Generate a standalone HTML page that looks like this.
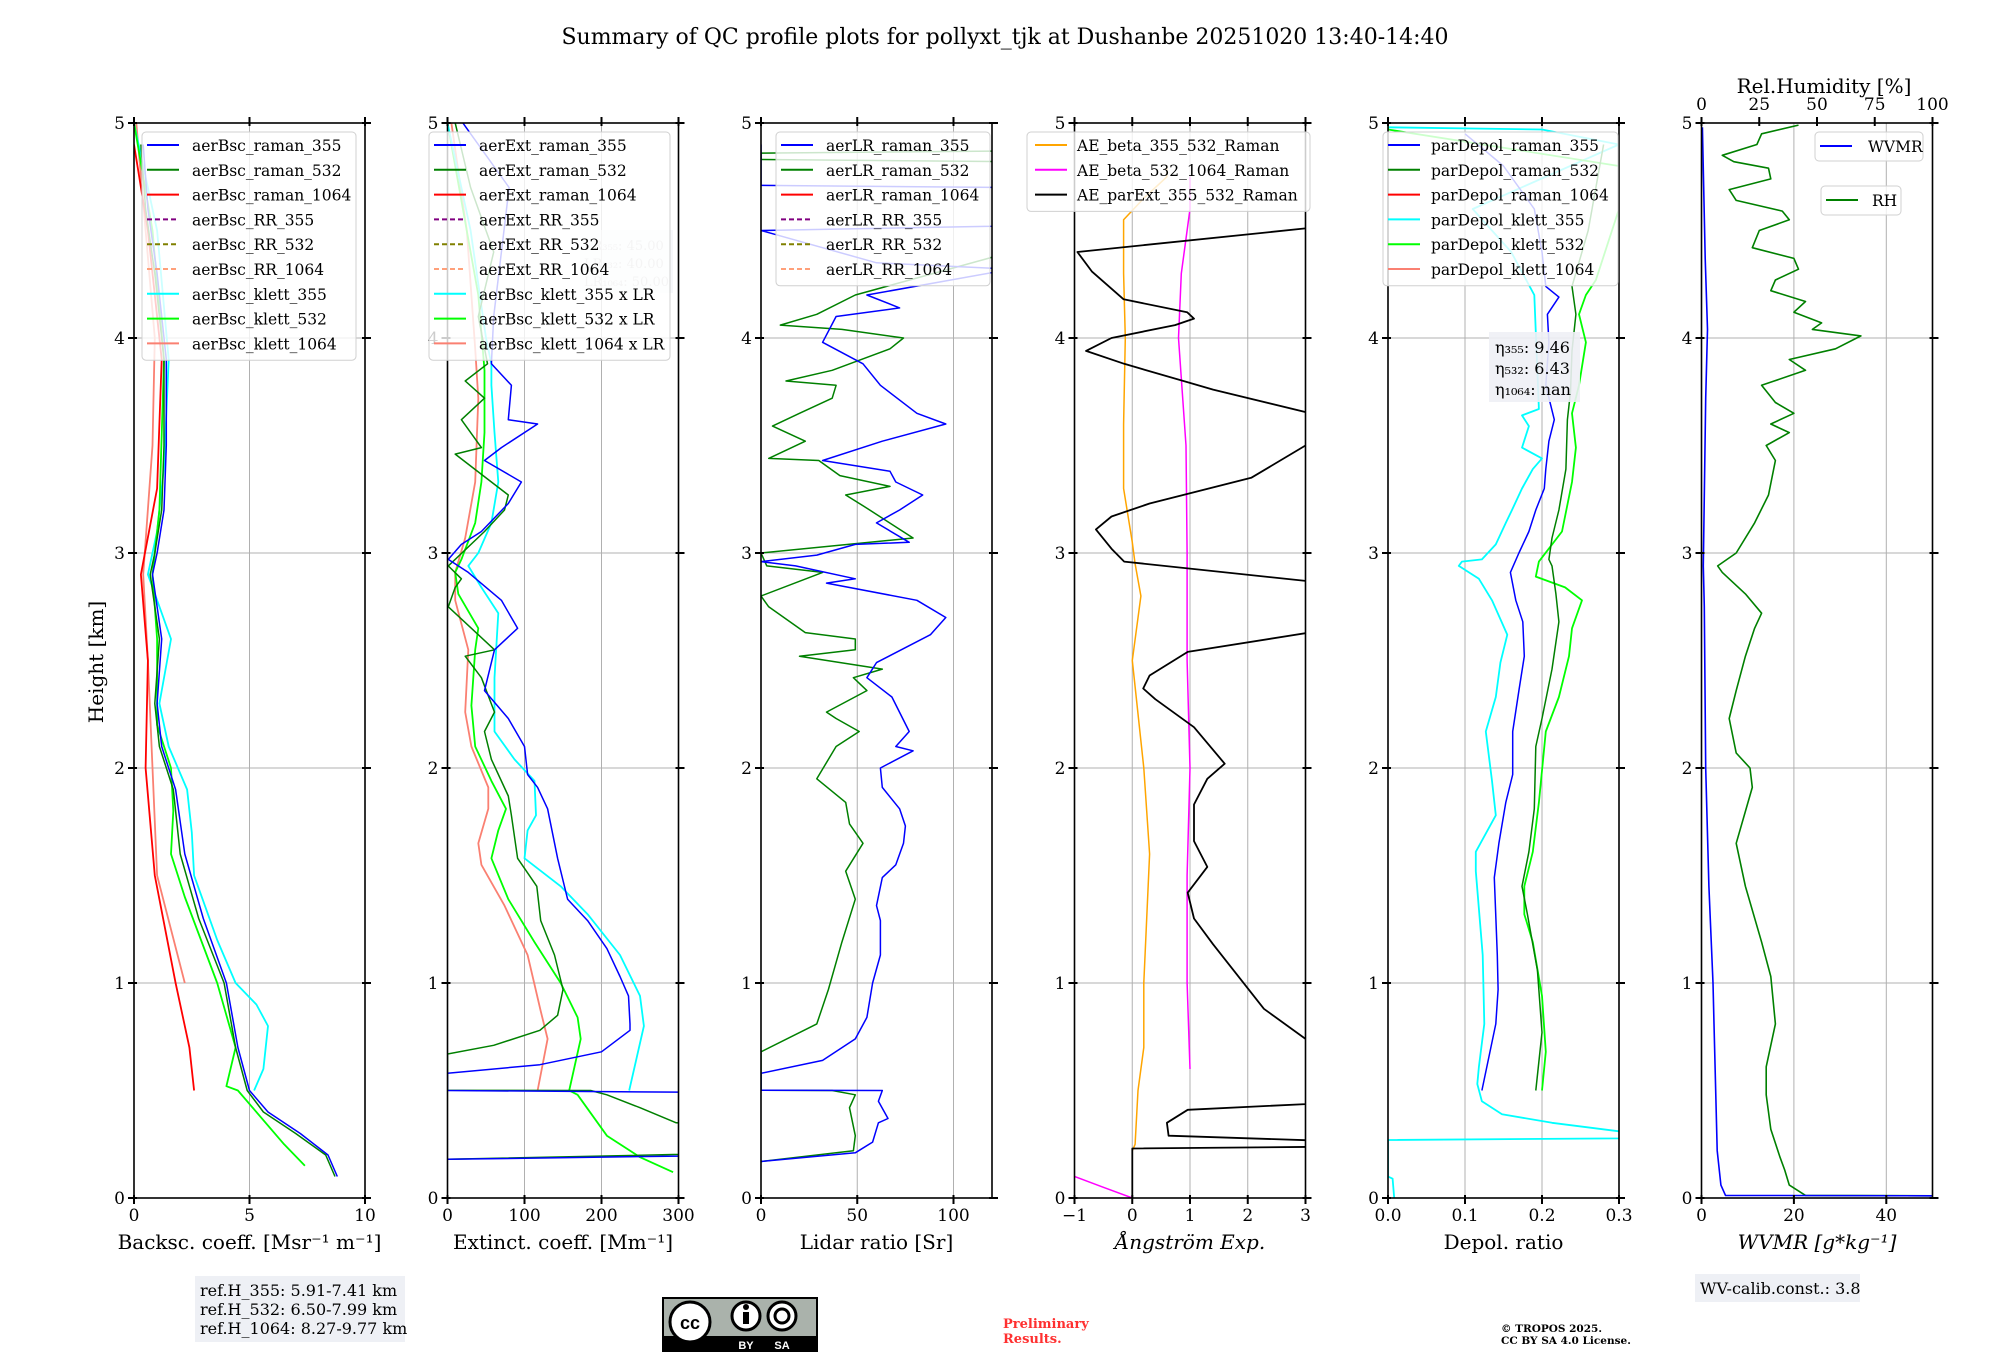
<!DOCTYPE html>
<html><head><meta charset="utf-8">
<style>
html,body{margin:0;padding:0;background:#fff;}
svg{display:block;font-family:"DejaVu Serif","Liberation Serif",serif;}
</style></head>
<body>
<svg id="chart" width="2000" height="1360" viewBox="0 0 2000 1360" xmlns="http://www.w3.org/2000/svg">
<rect x="0" y="0" width="2000" height="1360" fill="#fff"/>
<text x="1005" y="44" font-size="22" text-anchor="middle">Summary of QC profile plots for pollyxt_tjk at Dushanbe 20251020 13:40-14:40</text>
<text transform="translate(103,662) rotate(-90)" font-size="20" text-anchor="middle">Height [km]</text>
<g id="plots"></g>
<g>
<rect x="195" y="1276" width="210" height="66" fill="#eef0f5"/>
<text x="200" y="1296" font-size="16">ref.H_355: 5.91-7.41 km</text>
<text x="200" y="1315" font-size="16">ref.H_532: 6.50-7.99 km</text>
<text x="200" y="1334" font-size="16">ref.H_1064: 8.27-9.77 km</text>
</g>
<g>
<rect x="662" y="1297" width="156" height="55" fill="#000"/>
<rect x="664" y="1299" width="152" height="37" fill="#aab2ab"/>
<circle cx="690" cy="1322" r="20" fill="#fff" stroke="#000" stroke-width="3"/>
<text x="690" y="1329" font-size="18" font-weight="bold" text-anchor="middle" font-family="Liberation Sans, sans-serif">cc</text>
<circle cx="746" cy="1316" r="14" fill="#fff" stroke="#000" stroke-width="3"/>
<rect x="743" y="1312" width="6" height="12" fill="#000"/><circle cx="746" cy="1307" r="3" fill="#000"/>
<circle cx="782" cy="1316" r="14" fill="#fff" stroke="#000" stroke-width="3"/>
<circle cx="782" cy="1316" r="7" fill="none" stroke="#000" stroke-width="3"/>
<text x="746" y="1349" font-size="11" fill="#fff" text-anchor="middle" font-family="Liberation Sans, sans-serif" font-weight="bold">BY</text>
<text x="782" y="1349" font-size="11" fill="#fff" text-anchor="middle" font-family="Liberation Sans, sans-serif" font-weight="bold">SA</text>
</g>
<text x="1003" y="1328" font-size="13" font-weight="bold" fill="#ff3030">Preliminary</text>
<text x="1003" y="1343" font-size="13" font-weight="bold" fill="#ff3030">Results.</text>
<text x="1501" y="1332" font-size="10.5" font-weight="bold">© TROPOS 2025.</text>
<text x="1501" y="1344" font-size="10.5" font-weight="bold">CC BY SA 4.0 License.</text>
<g>
<rect x="1695" y="1274" width="165" height="28" fill="#eef0f5"/>
<text x="1700" y="1294" font-size="16">WV-calib.const.: 3.8</text>
</g>
</svg>
<script>
// ---------- data (height km / value) ----------
const bsc355H=[0.1,0.2,0.3,0.4,0.5,0.7,1.0,1.3,1.6,1.9,2.1,2.3,2.6,2.9,3.0,3.2,3.5,3.9,4.3,4.6,4.9];
const bsc355V=[8.8,8.4,7.2,5.8,5.0,4.5,4.0,3.0,2.2,1.8,1.2,1.0,1.2,0.8,1.0,1.3,1.4,1.4,1.0,0.6,0.4];
const bsc532H=[0.1,0.2,0.3,0.4,0.5,0.7,1.0,1.3,1.6,1.9,2.1,2.3,2.6,2.9,3.0,3.2,3.5,3.9,4.3,4.6,4.9];
const bsc532V=[8.7,8.3,7.0,5.6,4.9,4.4,3.9,2.8,2.0,1.7,1.1,0.9,1.1,0.7,0.9,1.2,1.3,1.3,0.9,0.5,0.3];
const bsc1064H=[0.5,0.7,1.0,1.5,2.0,2.5,2.9,3.3,3.9,4.5,4.9];
const bsc1064V=[2.6,2.4,1.8,0.9,0.5,0.6,0.3,1.0,1.2,0.6,0.0];
const bscK355H=[0.5,0.6,0.8,0.9,1.0,1.2,1.5,1.7,1.9,2.1,2.3,2.6,2.9,3.1,3.4,3.9,4.5,5.0];
const bscK355V=[5.2,5.6,5.8,5.3,4.4,3.6,2.6,2.5,2.3,1.5,1.1,1.6,0.6,1.0,1.3,1.5,1.0,0.0];
const bscK532H=[0.15,0.25,0.5,0.52,0.7,1.0,1.4,1.6,1.8,2.0,2.2,2.6,2.9,3.2,3.9,4.5,5.0];
const bscK532V=[7.4,6.5,4.5,4.0,4.4,3.6,2.2,1.6,1.7,1.6,1.0,1.0,0.8,1.1,1.3,0.8,0.0];
const bscK1064H=[1.0,1.5,2.0,2.5,2.9,3.5,4.0,4.5,5.0];
const bscK1064V=[2.2,1.0,0.8,0.6,0.4,0.8,0.9,0.5,0.1];

const ext355H=[0.18,0.2,0.49,0.5,0.58,0.62,0.68,0.78,0.81,0.94,1.03,1.16,1.29,1.39,1.58,1.81,1.91,1.97,2.1,2.23,2.36,2.55,2.65,2.78,2.91,2.97,3.04,3.1,3.23,3.33,3.43,3.49,3.6,3.62,3.78,3.88,4.1,4.4,4.7,5.0];
const ext355V=[0,400,400,0,0,120,200,237,237,235,224,207,182,156,143,130,117,104,100,79,48,61,91,70,27,1,18,44,79,96,48,70,117,79,83,57,60,70,80,20];
const ext532H=[0.18,0.21,0.33,0.35,0.42,0.48,0.5,0.501,0.67,0.71,0.78,0.85,0.97,1.13,1.29,1.45,1.58,1.78,1.87,2.04,2.17,2.26,2.42,2.52,2.55,2.75,2.84,2.88,2.94,3.1,3.2,3.27,3.33,3.46,3.49,3.62,3.72,3.8,3.88,4.1,4.4,4.7,5.0];
const ext532V=[0,400,400,297,250,207,186,0,0,60,120,143,150,139,121,116,91,83,79,57,48,61,44,23,61,1,10,18,1,48,74,79,57,10,44,18,48,23,52,40,60,30,10];
const extK355H=[0.5,0.8,0.94,1.13,1.32,1.45,1.58,1.71,1.78,1.94,2.04,2.17,2.42,2.72,2.84,2.94,3.0,3.14,3.33,3.56,3.78,3.88,4.0,4.5,5.0];
const extK355V=[236,255,250,224,182,147,100,104,115,113,87,61,61,66,44,27,40,57,66,61,57,57,50,30,0];
const extK532H=[0.12,0.19,0.29,0.48,0.5,0.74,0.84,1.0,1.19,1.39,1.58,1.71,1.81,1.94,2.1,2.29,2.55,2.65,2.81,2.91,2.97,3.14,3.33,3.56,3.85,4.2,4.6,5.0];
const extK532V=[293,250,207,169,158,173,169,147,113,79,57,66,76,57,36,31,36,40,14,10,18,36,44,48,48,40,20,0];
const extK1064H=[0.5,0.74,0.87,1.13,1.36,1.55,1.65,1.81,1.91,2.1,2.26,2.55,2.78,2.91,3.07,3.33,3.72,3.95,4.5,5.0];
const extK1064V=[117,130,121,104,74,44,40,53,53,31,23,27,10,10,23,36,40,36,25,5];

const lr355H=[0.17,0.21,0.26,0.35,0.37,0.45,0.5,0.501,0.58,0.64,0.74,0.84,1.0,1.13,1.29,1.36,1.49,1.55,1.65,1.73,1.81,1.91,2.0,2.08,2.1,2.17,2.33,2.42,2.49,2.62,2.7,2.78,2.86,2.88,2.94,2.96,2.99,3.04,3.05,3.14,3.2,3.27,3.33,3.38,3.43,3.52,3.6,3.65,3.78,3.88,3.98,4.1,4.14,4.2,4.32,4.35,4.5,4.52,4.7,4.71,4.9];
const lr355V=[0,49,58,61,66,61,63,0,0,32,49,55,58,62,62,60,63,70,74,75,72,63,62,79,70,77,68,55,60,88,96,81,34,49,18,0,29,49,77,60,72,84,70,67,32,63,96,81,62,53,32,39,72,55,130,60,0,120,130,0,0];
const lr532H=[0.17,0.22,0.29,0.42,0.48,0.5,0.501,0.68,0.81,0.97,1.19,1.39,1.52,1.65,1.74,1.84,1.95,2.1,2.17,2.23,2.26,2.36,2.42,2.46,2.52,2.55,2.6,2.63,2.75,2.8,2.91,2.94,3.0,3.07,3.22,3.27,3.31,3.36,3.43,3.44,3.52,3.59,3.65,3.72,3.78,3.8,3.85,3.95,4.0,4.04,4.06,4.11,4.2,4.4,4.82,4.83,4.86,4.87,5.0];
const lr532V=[0,48,49,46,49,37,0,0,29,35,42,49,44,53,46,44,29,39,51,39,34,55,48,63,20,49,49,23,4,0,32,3,0,79,53,44,67,41,30,4,23,6,20,37,39,13,37,67,74,42,10,29,49,130,130,0,0,130,130];

const ae1H=[0.22,0.25,0.5,0.7,1.0,1.3,1.6,2.0,2.5,2.8,2.95,3.05,3.3,3.6,4.0,4.3,4.55,4.65,4.75,4.8];
const ae1V=[0.0,0.05,0.1,0.2,0.2,0.25,0.3,0.2,0.0,0.15,0.05,0.0,-0.15,-0.15,-0.12,-0.15,-0.15,0.2,0.6,0.6];
const ae2H=[0.6,1.0,1.5,2.0,2.5,3.0,3.5,4.0,4.3,4.6,4.75];
const ae2V=[1.0,0.95,0.95,1.0,0.95,0.95,0.93,0.8,0.85,1.0,1.0];
const ae2bH=[0.1,0.05,0.0];
const ae2bV=[-1.0,-0.5,0.0];
const ae3H=[0,0.23,0.24,0.26,0.29,0.35,0.41,0.45,0.73,0.74,0.88,1.18,1.3,1.42,1.54,1.66,1.83,1.95,2.02,2.19,2.32,2.37,2.43,2.54,2.67,2.86,2.87,2.96,3.02,3.11,3.17,3.23,3.35,3.5,3.59,3.76,3.88,3.94,4.0,4.06,4.09,4.12,4.18,4.31,4.4,4.51,4.52];
const ae3V=[0,0,4,4,0.63,0.6,0.96,4,4,3,2.28,1.4,1.07,0.96,1.3,1.07,1.07,1.3,1.6,1.07,0.4,0.19,0.3,0.96,4,4,3,-0.14,-0.36,-0.63,-0.36,0.3,2.06,3,4,1.4,-0.14,-0.8,-0.36,0.74,1.07,0.95,-0.15,-0.7,-0.95,3,4];

const dp355H=[0.5,0.81,0.97,1.13,1.49,1.65,1.84,1.97,2.17,2.36,2.52,2.68,2.78,2.91,3.0,3.1,3.2,3.3,3.39,3.52,3.62,3.78,3.98,4.11,4.19,4.24,4.4,4.6,4.8,4.95];
const dp355V=[0.122,0.14,0.143,0.142,0.138,0.144,0.153,0.162,0.162,0.17,0.177,0.175,0.166,0.159,0.17,0.183,0.192,0.203,0.205,0.209,0.216,0.205,0.209,0.207,0.222,0.205,0.2,0.19,0.15,0.1];
const dpK355H=[0,0.09,0.1,0.27,0.28,0.31,0.35,0.39,0.45,0.53,0.61,0.81,1.13,1.52,1.61,1.78,1.94,2.17,2.33,2.49,2.62,2.78,2.88,2.94,2.96,2.97,3.04,3.14,3.2,3.3,3.39,3.44,3.49,3.59,3.64,3.67,4.2,4.4,4.6,4.9,4.97,4.98];
const dpK355V=[0.008,0.006,0,0,0.4,0.3,0.213,0.148,0.122,0.116,0.118,0.125,0.123,0.114,0.114,0.14,0.135,0.127,0.14,0.146,0.155,0.135,0.118,0.092,0.096,0.122,0.14,0.153,0.161,0.174,0.188,0.2,0.174,0.183,0.174,0.196,0.19,0.16,0.11,0.3,0.2,0.0];
const dp532H=[0.5,0.77,1.06,1.32,1.45,1.61,1.81,2.1,2.23,2.46,2.68,2.81,2.94,2.97,3.07,3.2,3.39,3.62,3.75,3.94,4.11,4.24,4.5,4.9];
const dp532V=[0.192,0.2,0.194,0.181,0.174,0.183,0.19,0.192,0.2,0.213,0.222,0.218,0.213,0.209,0.213,0.222,0.231,0.233,0.237,0.239,0.244,0.239,0.26,0.28];
const dpK532H=[0.5,0.68,0.94,1.19,1.32,1.45,1.61,1.84,2.17,2.33,2.52,2.65,2.78,2.84,2.89,2.96,3.1,3.33,3.49,3.65,3.78,3.98,4.11,4.2,4.27,4.6,4.8,4.97,4.99];
const dpK532V=[0.2,0.205,0.2,0.188,0.177,0.177,0.188,0.196,0.205,0.222,0.235,0.239,0.252,0.23,0.192,0.196,0.226,0.239,0.244,0.239,0.248,0.257,0.248,0.257,0.27,0.3,0.3,0.0,0.0];

const wvH=[0.01,0.012,0.06,0.22,0.81,1.0,1.45,2.0,2.75,2.94,3.72,4.04,4.37,4.98];
const wvV=[50,5.2,4.2,3.4,2.7,2.5,1.6,0.9,0.6,0.4,0.9,1.3,0.8,0.2];
const rhH=[0.01,0.012,0.06,0.13,0.19,0.32,0.48,0.61,0.81,1.03,1.19,1.45,1.65,1.91,2.0,2.07,2.23,2.36,2.52,2.65,2.72,2.81,2.91,2.94,3.0,3.14,3.27,3.43,3.5,3.56,3.6,3.65,3.7,3.78,3.85,3.9,3.95,4.01,4.04,4.07,4.12,4.17,4.22,4.27,4.32,4.37,4.42,4.5,4.55,4.59,4.64,4.69,4.74,4.79,4.82,4.85,4.9,4.95,4.99];
const rhV=[100,45,38,36,34,30,28,28,32,30,26,19,15,22,21,15,12,15,19,23,26,19,9,7,15,23,29,32,28,38,30,40,32,26,45,38,58,69,48,52,40,45,30,32,42,40,22,25,38,35,15,12,30,29,14,9,24,26,42];

// ---------- layout ----------
const Y0=1198, PXKM=215, PW=231;
const yS=h=>Y0-h*PXKM;
const svg=document.getElementById('chart');
const plots=document.getElementById('plots');
const NS='http://www.w3.org/2000/svg';
function mk(tag,attrs,parent){const e=document.createElementNS(NS,tag);for(const k in attrs)e.setAttribute(k,attrs[k]);(parent||plots).appendChild(e);return e;}

const panels=[
 {left:134,min:0,max:10,ticks:[0,5,10],tl:['0','5','10'],grid:[5],label:'Backsc. coeff. [Msr\u207B\u00B9 m\u207B\u00B9]'},
 {left:447.5,min:0,max:300,ticks:[0,100,200,300],tl:['0','100','200','300'],grid:[100,200],label:'Extinct. coeff. [Mm\u207B\u00B9]'},
 {left:761,min:0,max:120,ticks:[0,50,100],tl:['0','50','100'],grid:[50,100],label:'Lidar ratio [Sr]'},
 {left:1074.5,min:-1,max:3,ticks:[-1,0,1,2,3],tl:['\u22121','0','1','2','3'],grid:[0,1,2],label:'\u00C5ngstr\u00F6m Exp.'},
 {left:1388,min:0,max:0.3,ticks:[0,0.1,0.2,0.3],tl:['0.0','0.1','0.2','0.3'],grid:[0.1,0.2],label:'Depol. ratio'},
 {left:1701.5,min:0,max:50,ticks:[0,20,40],tl:['0','20','40'],grid:[20,40],label:'WVMR [g*kg\u207B\u00B9]'}
];
const pnames=['backscatter','extinction','lidar-ratio','angstrom','depol','wvmr'];
function xS(p,v){return p.left+(v-p.min)/(p.max-p.min)*PW;}

panels.forEach((p,i)=>{
  const g=mk('g',{});
  
  
  p.g=g;
  const cp=mk('clipPath',{id:'clip'+i},g);
  mk('rect',{x:p.left,y:yS(5),width:PW,height:5*PXKM},cp);
  [1,2,3,4].forEach(h=>{const l=mk('line',{x1:p.left,x2:p.left+PW,y1:yS(h),y2:yS(h),stroke:'#b0b0b0','stroke-width':1},g);});
  p.grid.forEach(v=>{const l=mk('line',{x1:xS(p,v),x2:xS(p,v),y1:yS(0),y2:yS(5),stroke:'#b0b0b0','stroke-width':1},g);});
  p.lines=mk('g',{'clip-path':'url(#clip'+i+')'},g);
});

function series(pi,H,V,color,w,name,scaleMax){
  const p=panels[pi];
  let d='';
  for(let k=0;k<H.length;k++){
    const xv = scaleMax? p.left+V[k]/scaleMax*PW : xS(p,V[k]);
    d+=(k?'L':'M')+xv.toFixed(1)+' '+yS(H[k]).toFixed(1);
  }
  const e=mk('path',{d:d,fill:'none',stroke:color,'stroke-width':w,'stroke-linejoin':'round'},p.lines);
  
  
}

series(0,bscK1064H,bscK1064V,'#fa8072',1.8,'aerBsc-klett-1064-line');
series(0,bscK355H,bscK355V,'#00ffff',1.8,'aerBsc-klett-355-line');
series(0,bscK532H,bscK532V,'#00ff00',1.8,'aerBsc-klett-532-line');
series(0,bsc1064H,bsc1064V,'#ff0000',1.8,'aerBsc-raman-1064-line');
series(0,bsc355H,bsc355V,'#0000ff',1.5,'aerBsc-raman-355-line');
series(0,bsc532H,bsc532V,'#008000',1.5,'aerBsc-raman-532-line');

series(1,extK1064H,extK1064V,'#fa8072',1.8,'ext-klett-1064-line');
series(1,extK532H,extK532V,'#00ff00',1.8,'ext-klett-532-line');
series(1,extK355H,extK355V,'#00ffff',1.8,'ext-klett-355-line');
series(1,ext532H,ext532V,'#008000',1.5,'aerExt-raman-532-line');
series(1,ext355H,ext355V,'#0000ff',1.5,'aerExt-raman-355-line');

series(2,lr532H,lr532V,'#008000',1.5,'aerLR-raman-532-line');
series(2,lr355H,lr355V,'#0000ff',1.5,'aerLR-raman-355-line');

series(3,ae1H,ae1V,'#ffa500',1.5,'ae-beta-355-532-line');
series(3,ae2H,ae2V,'#ff00ff',1.5,'ae-beta-532-1064-line');
series(3,ae2bH,ae2bV,'#ff00ff',1.5,'ae-beta-532-1064-low-line');
series(3,ae3H,ae3V,'#000000',1.8,'ae-parext-355-532-line');

series(4,dpK355H,dpK355V,'#00ffff',1.8,'parDepol-klett-355-line');
series(4,dpK532H,dpK532V,'#00ff00',1.8,'parDepol-klett-532-line');
series(4,dp532H,dp532V,'#008000',1.5,'parDepol-raman-532-line');
series(4,dp355H,dp355V,'#0000ff',1.5,'parDepol-raman-355-line');

series(5,rhH,rhV,'#008000',1.6,'rh-line',100);
series(5,wvH,wvV,'#0000ff',1.6,'wvmr-line');

panels.forEach((p,i)=>{
  const g=p.g;
  const fr=mk('rect',{x:p.left,y:yS(5),width:PW,height:5*PXKM,fill:'none',stroke:'#000','stroke-width':1.6},g);
  
  for(let h=0;h<=5;h++){
    mk('line',{x1:p.left-6,x2:p.left+3,y1:yS(h),y2:yS(h),stroke:'#000','stroke-width':2},g);
    mk('line',{x1:p.left+PW-3,x2:p.left+PW+6,y1:yS(h),y2:yS(h),stroke:'#000','stroke-width':2},g);
    const t=mk('text',{x:p.left-9,y:yS(h)+6,'font-size':17,'text-anchor':'end'},g);
    t.textContent=String(h);
    
  }
  p.ticks.forEach((v,k)=>{
    const x=xS(p,v);
    mk('line',{x1:x,x2:x,y1:Y0-3,y2:Y0+6,stroke:'#000','stroke-width':2},g);
    if(i<5) mk('line',{x1:x,x2:x,y1:yS(5)-6,y2:yS(5)+3,stroke:'#000','stroke-width':2},g);
    const t=mk('text',{x:x,y:1221,'font-size':17,'text-anchor':'middle'},g);
    t.textContent=p.tl[k];
    
  });
  const lb=mk('text',{x:p.left+PW/2,y:1249,'font-size':20,'text-anchor':'middle'},g);
  lb.textContent=p.label;
  if(i===5||i===3) lb.setAttribute('font-style','italic');
  
});

const rhTicks=[0,25,50,75,100];
const p6=panels[5];
rhTicks.forEach(v=>{
  const x=p6.left+v/100*PW;
  mk('line',{x1:x,x2:x,y1:yS(5)-6,y2:yS(5)+3,stroke:'#000','stroke-width':2},p6.g);
  const t=mk('text',{x:x,y:110,'font-size':17,'text-anchor':'middle'},p6.g);
  t.textContent=String(v);
  
});
const rhT=mk('text',{x:1824,y:93,'font-size':20,'text-anchor':'middle'},p6.g);
rhT.textContent='Rel.Humidity [%]';


function legend(x,y,w,entries,name,sx,tx){
  const g=mk('g',{});
  
  
  const rh=24.8;
  mk('rect',{x:x,y:y,width:w,height:entries.length*rh+5,rx:4,fill:'rgba(255,255,255,0.8)',stroke:'#d0d0d0'},g);
  entries.forEach((e,k)=>{
    const cy=y+13+k*rh;
    const ln=mk('line',{x1:x+sx,x2:x+sx+32,y1:cy,y2:cy,stroke:e[1],'stroke-width':2},g);
    if(e[2]) ln.setAttribute('stroke-dasharray','5,3');
    const t=mk('text',{x:x+tx,y:cy+6,'font-size':15.5},g);
    t.textContent=e[0];
    
  });
}
const dashes=['#800080','#808000','#ffa07a'];
legend(142,132,214,[['aerBsc_raman_355','#0000ff'],['aerBsc_raman_532','#008000'],['aerBsc_raman_1064','#ff0000'],['aerBsc_RR_355',dashes[0],1],['aerBsc_RR_532',dashes[1],1],['aerBsc_RR_1064',dashes[2],1],['aerBsc_klett_355','#00ffff'],['aerBsc_klett_532','#00ff00'],['aerBsc_klett_1064','#fa8072']],'backscatter-legend',5,50);
const lrb=mk('g',{});
mk('rect',{x:580,y:230,width:93,height:63,fill:'rgba(238,240,245,0.5)'},lrb);
[['LR\u2083\u2085\u2085: 45.00',250],['LR\u2085\u2083\u2082: 40.00',268],['LR\u2081\u2080\u2086\u2084: 50.00',286]].forEach(a=>{const t=mk('text',{x:584,y:a[1],'font-size':13,fill:'#c8c8c8'},lrb);t.textContent=a[0];});
legend(429,132,241,[['aerExt_raman_355','#0000ff'],['aerExt_raman_532','#008000'],['aerExt_raman_1064','#ff0000'],['aerExt_RR_355',dashes[0],1],['aerExt_RR_532',dashes[1],1],['aerExt_RR_1064',dashes[2],1],['aerBsc_klett_355 x LR','#00ffff'],['aerBsc_klett_532 x LR','#00ff00'],['aerBsc_klett_1064 x LR','#fa8072']],'extinction-legend',5,50);
legend(776,132,214,[['aerLR_raman_355','#0000ff'],['aerLR_raman_532','#008000'],['aerLR_raman_1064','#ff0000'],['aerLR_RR_355',dashes[0],1],['aerLR_RR_532',dashes[1],1],['aerLR_RR_1064',dashes[2],1]],'lidar-ratio-legend',5,50);
legend(1027,132,283,[['AE_beta_355_532_Raman','#ffa500'],['AE_beta_532_1064_Raman','#ff00ff'],['AE_parExt_355_532_Raman','#000000']],'angstrom-legend',8,50);
legend(1383,132,235,[['parDepol_raman_355','#0000ff'],['parDepol_raman_532','#008000'],['parDepol_raman_1064','#ff0000'],['parDepol_klett_355','#00ffff'],['parDepol_klett_532','#00ff00'],['parDepol_klett_1064','#fa8072']],'depol-legend',5,48);
const eb=mk('g',{});
mk('rect',{x:1489,y:332,width:91,height:70,fill:'rgba(238,240,245,0.9)'},eb);
[['\u03B7\u2083\u2085\u2085: 9.46',353],['\u03B7\u2085\u2083\u2082: 6.43',374],['\u03B7\u2081\u2080\u2086\u2084: nan',395]].forEach(a=>{const t=mk('text',{x:1495,y:a[1],'font-size':16},eb);t.textContent=a[0];});
const wl=mk('g',{});
mk('rect',{x:1815,y:132,width:108,height:29,rx:4,fill:'rgba(255,255,255,0.8)',stroke:'#d0d0d0'},wl);
mk('line',{x1:1820,x2:1852,y1:146,y2:146,stroke:'#0000ff','stroke-width':2},wl);
let tw=mk('text',{x:1868,y:152,'font-size':15.5},wl);tw.textContent='WVMR';
const rl=mk('g',{});
mk('rect',{x:1821,y:186,width:80,height:29,rx:4,fill:'rgba(255,255,255,0.8)',stroke:'#d0d0d0'},rl);
mk('line',{x1:1826,x2:1858,y1:200,y2:200,stroke:'#008000','stroke-width':2},rl);
let tr=mk('text',{x:1872,y:206,'font-size':15.5},rl);tr.textContent='RH';
</script>
</body></html>
